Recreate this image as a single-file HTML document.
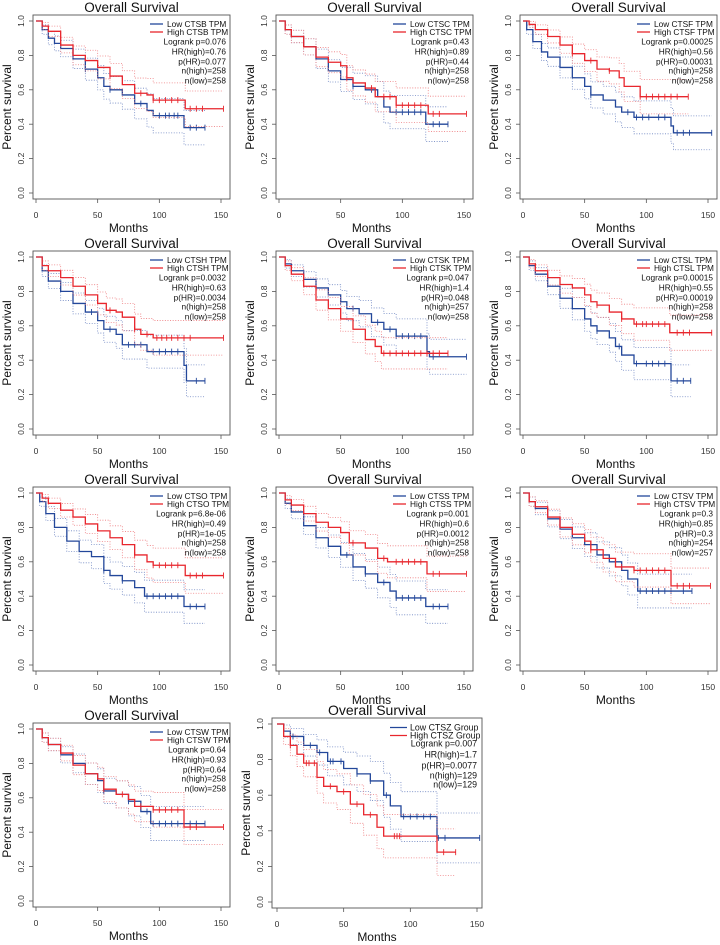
<!DOCTYPE html>
<html><head><meta charset="utf-8">
<style>
html,body{margin:0;padding:0;background:#fff;}
svg{display:block;font-family:"Liberation Sans",Arial,sans-serif;}
</style></head>
<body>
<svg id="fig" width="720" height="945" viewBox="0 0 720 945"></svg>
<script>
const genes=["CTSB","CTSC","CTSF","CTSH","CTSK","CTSL","CTSO","CTSS","CTSV","CTSW","CTSZ"];
const lowTimes=[
[0,5,10,15,20,30,40,50,55,60,70,80,90,95,120],
[0,5,10,20,30,40,50,60,70,80,85,90,119],
[0,3,8,15,20,30,40,50,55,65,75,80,90,120,122],
[0,5,10,20,30,40,50,55,65,70,90,120,122],
[0,5,10,20,30,40,50,55,65,75,85,95,120,122],
[0,5,10,20,30,40,50,55,60,70,75,80,90,120],
[0,3,8,15,25,35,45,55,60,70,80,88,120],
[0,5,10,20,30,40,50,60,70,80,90,95,119],
[0,5,10,20,30,40,50,60,70,80,85,93],
[0,5,10,20,30,40,50,55,65,75,85,93],
[0,5,10,20,30,38,50,60,70,80,85,93,120]];
const lowSurv=[
[1,.95,.9,.87,.84,.78,.72,.67,.62,.6,.57,.52,.48,.45,.38],
[1,.95,.91,.85,.78,.71,.66,.62,.6,.56,.5,.47,.4],
[1,.95,.88,.82,.79,.73,.67,.62,.57,.54,.5,.47,.44,.39,.35],
[1,.92,.86,.8,.73,.68,.63,.58,.55,.49,.45,.37,.28],
[1,.96,.92,.87,.82,.78,.74,.7,.67,.62,.58,.54,.45,.42],
[1,.95,.9,.83,.76,.7,.64,.6,.57,.53,.48,.43,.38,.28],
[1,.95,.88,.8,.72,.66,.63,.55,.52,.49,.45,.4,.34],
[1,.94,.89,.81,.74,.69,.64,.57,.53,.48,.43,.39,.34],
[1,.95,.91,.85,.79,.74,.7,.64,.6,.55,.5,.43],
[1,.95,.91,.85,.8,.74,.7,.64,.62,.58,.52,.45],
[1,.96,.93,.88,.84,.79,.75,.72,.68,.6,.54,.48,.36]];
const highTimes=[
[0,5,10,20,30,40,50,60,70,80,90,95,121],
[0,5,10,20,30,40,50,55,60,70,78,95,121],
[0,5,10,20,30,40,50,60,70,78,82,95],
[0,5,10,20,30,40,50,57,65,70,80,85,95],
[0,5,10,20,30,40,50,60,70,78,83],
[0,5,10,20,30,40,50,55,60,70,80,90,119],
[0,5,10,20,30,40,50,60,70,80,90,95,121],
[0,5,10,20,30,40,50,57,70,80,88,120],
[0,5,10,20,30,40,50,55,65,75,90,120],
[0,5,10,20,30,40,50,55,65,75,80,95,120],
[0,5,10,15,20,30,35,45,55,65,75,80,120]];
const highSurv=[
[1,.97,.94,.86,.8,.77,.73,.68,.63,.58,.57,.54,.49],
[1,.95,.91,.85,.79,.76,.74,.67,.64,.61,.56,.51,.46],
[1,.98,.95,.91,.86,.81,.77,.72,.71,.67,.62,.56],
[1,.95,.92,.88,.83,.78,.73,.69,.68,.65,.58,.55,.53],
[1,.95,.9,.83,.75,.7,.64,.58,.52,.48,.44],
[1,.96,.92,.88,.84,.82,.78,.74,.72,.68,.64,.61,.56],
[1,.97,.94,.9,.86,.82,.78,.74,.7,.64,.6,.58,.52],
[1,.96,.93,.88,.83,.8,.77,.71,.68,.62,.6,.53],
[1,.95,.92,.86,.8,.76,.72,.67,.62,.57,.55,.46],
[1,.95,.91,.86,.79,.74,.71,.65,.62,.59,.55,.53,.43],
[1,.93,.88,.83,.78,.7,.65,.62,.55,.49,.42,.37,.28]];
const lowEnd=[137,137,153,137,152,136,137,137,137,137,152];
const highEnd=[152,152,134,152,137,153,152,152,152,152,134];
const lowCens=[
[40,60,85,100,105,108,112,115,125,130,137],
[60,75,95,100,105,110,115,125,130,137],
[55,85,92,97,102,110,115,125,130,135,153],
[45,60,75,80,85,95,100,105,110,115,130,137],
[50,60,80,90,95,100,105,110,115,125,152],
[60,78,92,100,105,110,115,125,130,136],
[55,70,90,95,100,105,110,115,125,130,137],
[55,70,85,95,100,105,110,115,125,130,137],
[55,75,95,100,105,110,115,120,130,137],
[55,75,90,95,100,105,110,115,120,125,130,137],
[12,25,32,40,42,48,60,70,82,95,100,105,110,115,121,126,152]];
const highCens=[
[60,85,95,100,105,110,115,125,130,135,152],
[55,75,85,90,95,100,105,110,115,125,130,152],
[40,55,70,95,100,105,110,115,120,125,134],
[60,80,90,98,102,106,110,115,120,125,152],
[85,90,95,100,105,110,115,120,125,130,137],
[60,80,92,97,100,105,110,115,125,130,135,153],
[80,95,100,105,110,115,125,130,135,152],
[60,85,95,100,105,110,115,125,130,152],
[55,80,90,95,100,105,110,115,125,130,135,152],
[55,70,85,95,100,105,110,115,125,130,152],
[10,22,24,28,40,50,60,70,88,90,92,125,134]];
const logrankP=["0.076","0.43","0.00025","0.0032","0.047","0.00015","6.8e-06","0.001","0.3","0.64","0.007"];
const hrHigh=["0.76","0.89","0.56","0.63","1.4","0.55","0.49","0.6","0.85","0.93","1.7"];
const pHR=["0.077","0.44","0.00031","0.0034","0.048","0.00019","1e-05","0.0012","0.3","0.64","0.0077"];
const nHigh=[258,258,258,258,257,258,258,258,254,258,129];
const nLow=[258,258,258,258,258,258,258,258,257,258,129];
const yTicks=[0,0.2,0.4,0.6,0.8,1.0];
const yTickLabels=["0.0","0.2","0.4","0.6","0.8","1.0"];
const xTicks=[0,50,100,150];

const NS="http://www.w3.org/2000/svg";
const svg=document.getElementById('fig');
const BLUE="#23479a",RED="#e8262d",BLUEL="#6f86c2",REDL="#ee7d80";
function mk(tag,attrs,parent){const e=document.createElementNS(NS,tag);for(const k in attrs)e.setAttribute(k,attrs[k]);(parent||svg).appendChild(e);return e;}
function txt(s,attrs,parent){const e=mk('text',attrs,parent);e.textContent=s;return e;}
function survAt(T,S,t){let v=S[0];for(let i=0;i<T.length;i++){if(T[i]<=t)v=S[i];}return v;}

genes.forEach((g,i)=>{
  const col=i%3,row=Math.floor(i/3);
  let G;
  if(i<10){
    const ox=[0,243,487][col],oy=row*236;
    G={x0:ox+36,xs:185/150,y0:oy+193,ys:172,bx:ox+33,by:oy+15,bw:197,bh:184,
       lgL:-80,lgLen:13,lgT:-63,lgY:[9,17],stX:-4,stY:[29.5,39.5,49.5,58.5,68.5],fs:8.3,ftit:13.5};
  }else{
    G={x0:277,xs:200/150,y0:902,ys:178,bx:272,by:718,bw:210,bh:190,
       lgL:-92,lgLen:17,lgT:-72,lgY:[9.5,17.5],stX:-5,stY:[28.5,39.5,50.5,60.5,69.5],fs:8.8,ftit:14};
  }
  const X=t=>G.x0+t*G.xs, Y=s=>G.y0-s*G.ys;
  const grp=mk('g',{});
  
  
  const R=G.bx+G.bw, B=G.by+G.bh;
  const t1=txt('Overall Survival',{x:G.bx+G.bw/2,y:G.by-3,'text-anchor':'middle','font-size':G.ftit,fill:'#111'},grp);
  
  
  const box=mk('rect',{x:G.bx,y:G.by,width:G.bw,height:G.bh,fill:'none',stroke:'#555','stroke-width':0.9},grp);
  
  
  yTicks.forEach((v,k)=>{
    mk('line',{x1:G.bx,x2:G.bx-4,y1:Y(v),y2:Y(v),stroke:'#555','stroke-width':0.8},grp);
    const tl=txt(yTickLabels[k],{x:0,y:0,'text-anchor':'middle','font-size':8.5,fill:'#333',transform:`translate(${G.bx-9},${Y(v)}) rotate(-90)`},grp);
    
    
  });
  xTicks.forEach(v=>{
    mk('line',{x1:X(v),x2:X(v),y1:B,y2:B+4,stroke:'#555','stroke-width':0.8},grp);
    const tl=txt(String(v),{x:X(v),y:B+19,'text-anchor':'middle','font-size':8.5,fill:'#333'},grp);
    
    
  });
  const yt=txt('Percent survival',{x:0,y:0,'text-anchor':'middle','font-size':12,fill:'#111',transform:`translate(${G.bx-22},${G.by+G.bh/2}) rotate(-90)`},grp);
  
  
  const xt=txt('Months',{x:G.x0+75*G.xs,y:B+33,'text-anchor':'middle','font-size':12,fill:'#111'},grp);
  
  

  const n=[nLow[i],nHigh[i]];
  [[lowTimes[i],lowSurv[i],lowEnd[i],lowCens[i],BLUE,BLUEL,'low'],[highTimes[i],highSurv[i],highEnd[i],highCens[i],RED,REDL,'high']].forEach((c,ci)=>{
    const [T,S,E,C,colr,coll,nm]=c;
    const hw=(t,s)=>1.96*Math.sqrt(Math.max(s*(1-s),0)/(n[ci]*Math.max(0.35,1-t/150)));
    ['up','lo'].forEach(side=>{
      let d='';
      T.forEach((t,k)=>{const s=S[k];const h=hw(t,s);const v=side==='up'?Math.min(1,s+h):Math.max(0,s-h);
        d+= k===0?`M${X(t)},${Y(v)}`:`H${X(t)}V${Y(v)}`;});
      d+=`H${X(E)}`;
      const p=mk('path',{d:d,fill:'none',stroke:coll,'stroke-width':0.8,'stroke-dasharray':'1,1.6'},grp);
      
      
    });
    let d='';
    T.forEach((t,k)=>{d+= k===0?`M${X(t)},${Y(S[k])}`:`H${X(t)}V${Y(S[k])}`;});
    d+=`H${X(E)}`;
    const p=mk('path',{d:d,fill:'none',stroke:colr,'stroke-width':1.3},grp);
    
    
    C.forEach(t=>{
      const s=survAt(T,S,t);
      const m=mk('line',{x1:X(t),x2:X(t),y1:Y(s)-3,y2:Y(s)+3,stroke:colr,'stroke-width':0.9},grp);
      
      
    });
  });
  const suffix=i<10?' TPM':' Group';
  const labels=['Low '+g+suffix,'High '+g+suffix];
  [BLUE,RED].forEach((colr,k)=>{
    const ly=G.by+G.lgY[k];
    mk('line',{x1:R+G.lgL,x2:R+G.lgL+G.lgLen,y1:ly,y2:ly,stroke:colr,'stroke-width':1.3},grp);
    const lt=txt(labels[k],{x:R+G.lgT,y:ly+3,'font-size':G.fs,fill:'#111'},grp);
    
    
  });
  const stats=['Logrank p='+logrankP[i],'HR(high)='+hrHigh[i],'p(HR)='+pHR[i],'n(high)='+nHigh[i],'n(low)='+nLow[i]];
  stats.forEach((s,k)=>{
    const st=txt(s,{x:R+G.stX,y:G.by+G.stY[k],'text-anchor':'end','font-size':G.fs,fill:'#111'},grp);
    
    
  });
});
</script>
</body></html>
